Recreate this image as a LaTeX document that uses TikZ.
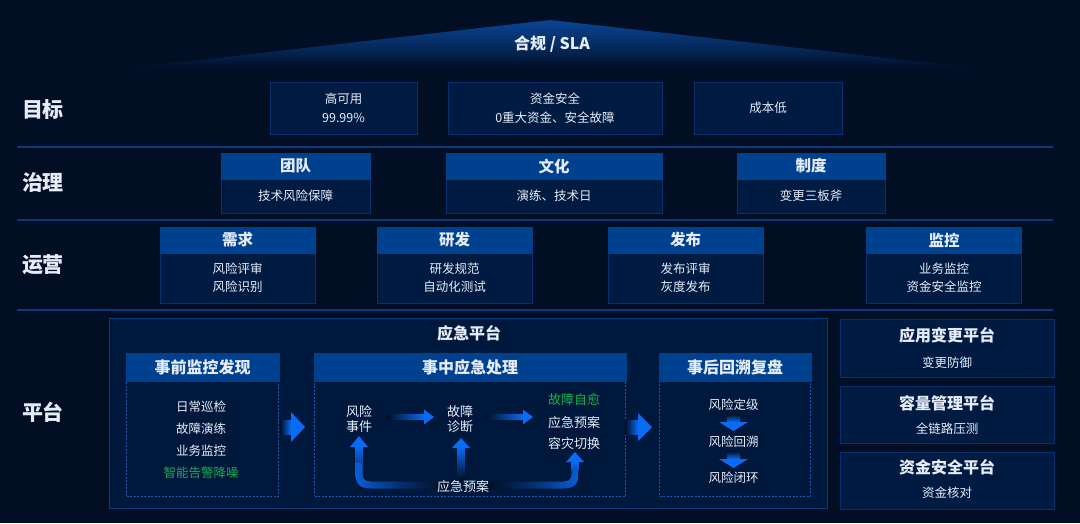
\documentclass[tikz,border=0pt]{standalone}
\usepackage{fontspec}
\setmainfont{Noto Sans CJK SC}
\definecolor{bg}{HTML}{020E24}
\definecolor{boxfill}{HTML}{001B42}
\definecolor{boxline}{HTML}{07316E}
\definecolor{hdrfill}{HTML}{00418F}
\definecolor{platfill}{HTML}{00183B}
\definecolor{platline}{HTML}{0A3A7C}
\definecolor{dashline}{HTML}{1A5AB0}
\definecolor{sepline}{HTML}{0B3A7E}
\definecolor{fg}{HTML}{E6ECF7}
\definecolor{grn}{HTML}{12B04C}
\definecolor{arr}{HTML}{0A6CF5}
\definecolor{tri}{HTML}{0A4494}
\tikzset{
  txt/.style={text=fg, font=\fontsize{12.5}{19}\selectfont, align=center, inner sep=0pt},
  gtxt/.style={txt, text=grn},
  rowlab/.style={text=fg, font=\bfseries\fontsize{21}{24}\selectfont, inner sep=0pt},
  gbox/.style={draw=boxline, fill=boxfill, line width=1pt, inner sep=0pt, text=fg, font=\fontsize{12.5}{19}\selectfont, align=center},
  hdr/.style={fill=hdrfill, draw=hdrfill, line width=0.6pt, inner sep=0pt, text=fg, font=\bfseries\fontsize{15.5}{18}\selectfont},
  phdr/.style={fill=hdrfill, draw=hdrfill, line width=0.6pt, inner sep=0pt, text=fg, font=\bfseries\fontsize{16}{18}\selectfont},
  dbox/.style={draw=dashline, fill=platfill, line width=0.8pt, dash pattern=on 2pt off 1.5pt, inner sep=0pt},
  bigbox/.style={draw=platline, fill=platfill, line width=1pt, inner sep=0pt},
  ttl/.style={text=fg, font=\bfseries\fontsize{16}{18}\selectfont, inner sep=0pt},
  sep/.style={draw=sepline, line width=1.3pt},
}
\begin{document}
\begin{tikzpicture}[x=1pt,y=-1pt]
\fill[bg] (0,0) rectangle (1080,523);
\useasboundingbox (0,0) rectangle (1080,523);

% roof
\shade[top color=tri, bottom color=bg, middle color=tri!55!bg] (120,69) -- (550,20) -- (985,69) -- cycle;
\node[ttl] (roof) at (552,44) {合规 / SLA};

% separators
\coordinate (s1a) at (17,147); \coordinate (s1b) at (1053,147);
\coordinate (s2a) at (17,220); \coordinate (s2b) at (1053,220);
\coordinate (s3a) at (17,310); \coordinate (s3b) at (1053,310);
\draw[sep] (s1a) -- (s1b);
\draw[sep] (s2a) -- (s2b);
\draw[sep] (s3a) -- (s3b);

% row labels
\node[rowlab] (lab1) at (43,110) {目标};
\node[rowlab] (lab2) at (43,182) {治理};
\node[rowlab] (lab3) at (43,265) {运营};
\node[rowlab] (lab4) at (43,412) {平台};

% goals
\node[gbox, minimum width=147pt, minimum height=52pt] (g1) at (343.5,108) {高可用\\99.99\%};
\node[gbox, minimum width=214pt, minimum height=52pt] (g2) at (555,108) {资金安全\\0重大资金、安全故障};
\node[gbox, minimum width=148pt, minimum height=52pt] (g3) at (768,108) {成本低};

% governance
\node[gbox, minimum width=149pt, minimum height=34pt] (t1b) at (295.5,196) {技术风险保障};
\node[hdr, minimum width=149pt, minimum height=26pt] (t1h) at (295.5,166) {团队};
\node[gbox, minimum width=216pt, minimum height=34pt] (t2b) at (554,196) {演练、技术日};
\node[hdr, minimum width=216pt, minimum height=26pt] (t2h) at (554,166) {文化};
\node[gbox, minimum width=148pt, minimum height=34pt] (t3b) at (811,196) {变更三板斧};
\node[hdr, minimum width=148pt, minimum height=26pt] (t3h) at (811,166) {制度};

% operations
\tikzset{obody/.style={gbox, minimum width=155pt, minimum height=50pt, font=\fontsize{12.5}{18}\selectfont},
         ohdr/.style={hdr, minimum width=155pt, minimum height=26pt}}
\node[obody] (o1b) at (237.5,278) {风险评审\\风险识别};
\node[ohdr] (o1h) at (237.5,240) {需求};
\node[obody] (o2b) at (454.5,278) {研发规范\\自动化测试};
\node[ohdr] (o2h) at (454.5,240) {研发};
\node[obody] (o3b) at (685.5,278) {发布评审\\灰度发布};
\node[ohdr] (o3h) at (685.5,240) {发布};
\node[obody] (o4b) at (944,278) {业务监控\\资金安全监控};
\node[ohdr] (o4h) at (944,240) {监控};

% platform big box
\node[bigbox, minimum width=718pt, minimum height=190pt] (plat) at (468,413) {};
\node[ttl] (platt) at (469,333) {应急平台};

% sub boxes
\node[dbox, minimum width=152pt, minimum height=115pt] (p1b) at (202.5,438.5) {};
\node[phdr, minimum width=153pt, minimum height=28pt] (p1h) at (202.5,367) {事前监控发现};
\node[dbox, minimum width=311pt, minimum height=115pt] (p2b) at (470,438.5) {};
\node[phdr, minimum width=312pt, minimum height=28pt] (p2h) at (470,367) {事中应急处理};
\node[dbox, minimum width=151pt, minimum height=115pt] (p3b) at (735,438.5) {};
\node[phdr, minimum width=152pt, minimum height=28pt] (p3h) at (735,367) {事后回溯复盘};

% p1 items
\node[txt] (a1) at (201,407) {日常巡检};
\node[txt] (a2) at (201,428.5) {故障演练};
\node[txt] (a3) at (201,451) {业务监控};
\node[gtxt] (a4) at (201,473) {智能告警降噪};

% p2 items
\node[txt, font=\fontsize{13}{15}\selectfont] (b1) at (359,419) {风险\\事件};
\node[txt, font=\fontsize{13}{15}\selectfont] (b2) at (460,419) {故障\\诊断};
\node[gtxt, font=\fontsize{13}{15}\selectfont] (b3) at (574,400) {故障自愈};
\node[txt, font=\fontsize{13}{15}\selectfont] (b4) at (574,422.5) {应急预案};
\node[txt, font=\fontsize{13}{15}\selectfont] (b5) at (574,444) {容灾切换};

% p3 items
\node[txt] (c1) at (733.5,405) {风险定级};
\node[txt] (c2) at (733.5,441.5) {风险回溯};
\node[txt] (c3) at (733.5,478) {风险闭环};

% arrows between sub boxes
\shade[left color=bg, right color=arr] (280,420) rectangle (291,434);
\fill[arr] (291,412) -- (305,427) -- (291,442) -- cycle;
\shade[left color=bg, right color=arr] (625,420) rectangle (638,434);
\fill[arr] (638,413) -- (652,427) -- (638,441) -- cycle;

% horizontal arrows in p2
\shade[left color=bg, right color=arr] (386,414.5) rectangle (425,419.5);
\fill[arr] (424,409.5) -- (434,417) -- (424,424.5) -- cycle;
\shade[left color=bg, right color=arr] (485,414.5) rectangle (524,419.5);
\fill[arr] (523,409.5) -- (533,417) -- (523,424.5) -- cycle;

% loop arrows
\shade[left color=arr!85!bg, right color=bg, middle color=arr!35!bg]
  (355.5,446) -- (355.5,474) .. controls (355.5,485) and (361,488.5) .. (371,488.5)
  -- (445,488.5) -- (445,481.5) -- (371,481.5) .. controls (365,481.5) and (362.5,479) .. (362.5,474)
  -- (362.5,446) -- cycle;
\shade[top color=arr, bottom color=arr!60!bg] (355.5,446) rectangle (362.5,462);
\fill[arr] (350,447) -- (359,436) -- (368,447) -- cycle;
\shade[top color=arr, bottom color=bg] (457.5,447) rectangle (464.5,480);
\fill[arr] (452,448) -- (461,438) -- (470,448) -- cycle;
\shade[right color=arr!85!bg, left color=bg, middle color=arr!35!bg]
  (578.5,461) -- (578.5,474) .. controls (578.5,485) and (573,488.5) .. (563,488.5)
  -- (488,488.5) -- (488,481.5) -- (563,481.5) .. controls (569,481.5) and (571.5,479) .. (571.5,474)
  -- (571.5,461) -- cycle;
\shade[top color=arr, bottom color=arr!75!bg] (571.5,461) rectangle (578.5,470);
\fill[arr] (566,462) -- (575,452) -- (584,462) -- cycle;
\node[txt, font=\fontsize{13}{15}\selectfont] (b6) at (463,487) {应急预案};

% down arrows in p3
\shade[top color=bg, bottom color=arr] (727,414) rectangle (740,422);
\fill[arr] (719,422) -- (748,422) -- (733.5,431) -- cycle;
\shade[top color=bg, bottom color=arr] (727,451) rectangle (740,459);
\fill[arr] (719,459) -- (748,459) -- (733.5,468) -- cycle;

% right platforms
\node[gbox, minimum width=214pt, minimum height=58pt] (r1) at (947,348) {};
\node[ttl] (r1t) at (947,335) {应用变更平台};
\node[txt] (r1s) at (947,363) {变更防御};
\node[gbox, minimum width=214pt, minimum height=57pt] (r2) at (947,414.5) {};
\node[ttl] (r2t) at (947,403) {容量管理平台};
\node[txt] (r2s) at (947,429) {全链路压测};
\node[gbox, minimum width=214pt, minimum height=57pt] (r3) at (947,480.5) {};
\node[ttl] (r3t) at (947,467) {资金安全平台};
\node[txt] (r3s) at (947,493) {资金核对};
\end{tikzpicture}
\end{document}
